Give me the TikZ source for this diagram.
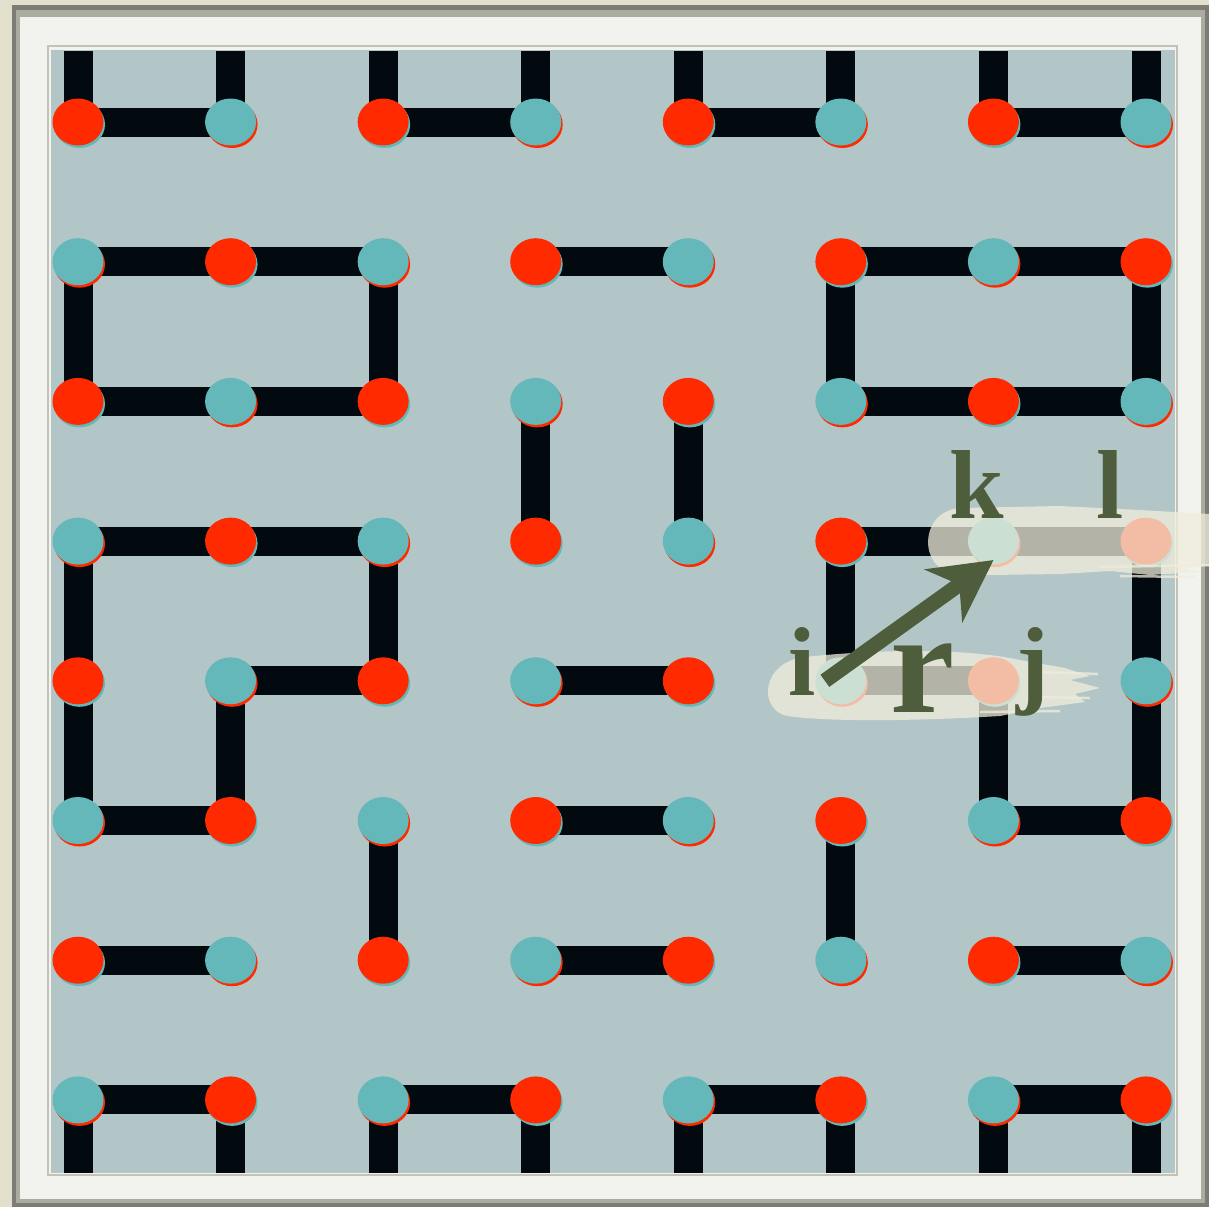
\documentclass[tikz,border=0pt]{standalone}
\usepackage{fontspec}
\newfontfamily\labfont{Liberation Serif}
\usetikzlibrary{shapes.geometric,arrows.meta}
\definecolor{bgbeige}{RGB}{227,223,205}
\definecolor{framedark}{RGB}{125,124,116}
\definecolor{framemid}{RGB}{172,171,162}
\definecolor{mat}{RGB}{242,242,239}
\definecolor{panelline}{RGB}{196,194,180}
\definecolor{panel}{RGB}{178,198,200}
\definecolor{dimer}{RGB}{2,9,15}
\definecolor{dotred}{RGB}{255,42,0}
\definecolor{dotteal}{RGB}{100,184,186}
\definecolor{cream}{RGB}{240,237,220}
\definecolor{olive}{RGB}{78,93,60}
\pgfdeclarelayer{back}
\pgfdeclarelayer{mid}
\pgfdeclarelayer{front}
\pgfsetlayers{back,mid,main,front}
\begin{document}
\begin{tikzpicture}[x=1pt,y=-1pt,
  bond/.style={draw=dimer,line width=29pt},
  dotnode/.style={ellipse,minimum width=51pt,minimum height=47pt,inner sep=0pt,draw=none},
  reddot/.style={dotnode,fill=dotred},
  tealdot/.style={dotnode,fill=dotteal},
  lab/.style={text=olive,font={\labfont\bfseries\fontsize{98}{98}\selectfont},anchor=base,inner sep=0pt},
  bigr/.style={lab,font={\labfont\bfseries\fontsize{145}{145}\selectfont}},
  brush/.style={fill=cream,fill opacity=0.75,draw=none},
  streak/.style={draw=cream,draw opacity=0.75,line width=2.5pt},
  vec/.style={draw=olive,line width=15pt,-{Stealth[length=62pt,width=66pt,inset=20pt,line width=0pt]}}]
\useasboundingbox (0,0) rectangle (1209,1207);
% frame and panel
\begin{pgfonlayer}{back}
\fill[bgbeige] (0,0) rectangle (1209,1207);
\fill[framedark] (12,5) rectangle (1209,1207);
\fill[framemid] (16,10) rectangle (1205,1203);
\fill[mat] (20,17) rectangle (1201,1199);
\draw[panelline,line width=2pt] (48,46) rectangle (1177,1175);
\fill[panel] (51,50) rectangle (1175,1173);
\end{pgfonlayer}
% dots
\foreach \r in {0,...,7}{\foreach \c in {0,...,7}{
  \pgfmathsetmacro{\px}{78+152.57*\c}
  \pgfmathsetmacro{\py}{122+139.7*\r}
  \pgfmathtruncatemacro{\pty}{mod(\r+\c,2)}
  \ifnum\pty=0
    \fill[dotteal] (\px+1.5,\py+2.5) ellipse [x radius=25.5, y radius=23.5];
    \node[reddot] (d\r\c) at (\px,\py) {};
  \else
    \fill[dotred] (\px+1.5,\py+2.5) ellipse [x radius=25.5, y radius=23.5];
    \node[tealdot] (d\r\c) at (\px,\py) {};
  \fi
}}
\foreach \c in {0,...,7}{
  \pgfmathsetmacro{\px}{78+152.57*\c}
  \coordinate (t\c) at (\px,51);
  \coordinate (b\c) at (\px,1173);
}
% bonds
\begin{pgfonlayer}{mid}
\foreach \c in {0,...,7}{
  \draw[bond] (t\c) -- (d0\c.center);
  \draw[bond] (d7\c.center) -- (b\c);
}
\foreach \a/\b in {00/01,02/03,04/05,06/07,
  10/11,11/12,13/14,15/16,16/17,
  10/20,12/22,15/25,17/27,
  20/21,21/22,25/26,26/27,
  23/33,24/34,
  30/31,31/32,35/36,36/37,
  30/40,32/42,35/45,37/47,
  41/42,43/44,45/46,
  40/50,41/51,46/56,47/57,
  50/51,53/54,56/57,
  52/62,55/65,
  60/61,63/64,66/67,
  70/71,72/73,74/75,76/77}{
  \draw[bond] (d\a.center) -- (d\b.center);
}
\end{pgfonlayer}
% highlights, labels, vector
\begin{pgfonlayer}{front}
\path[brush] (962,508) -- (1060,506) -- (1140,510) -- (1209,514) -- (1209,566)
  -- (1182,568) -- (1200,572) -- (1150,575) -- (1110,571) -- (1060,574)
  -- (990,575) -- (955,573) .. controls (918,571) and (918,509) .. (962,508) -- cycle;
\draw[streak] (1100,567) -- (1209,565);
\draw[streak] (1120,576) -- (1195,577);
\path[brush] (805,657) .. controls (870,650) and (960,647) .. (1020,660)
  -- (1065,668) -- (1090,676) -- (1070,680) -- (1100,688) -- (1075,694)
  -- (1085,702) -- (1040,708) -- (1000,716) .. controls (900,722) and (820,721) .. (788,716)
  .. controls (758,711) and (760,662) .. (805,657) -- cycle;
\draw[streak] (1040,672) -- (1098,674);
\draw[streak] (1030,697) -- (1090,698);
\draw[streak] (980,712) -- (1060,711);
\node[lab] (lk) at (977,518) {k};
\node[lab] (ll) at (1110,518) {l};
\node[lab] (li) at (802,695) {i};
\node[lab] (lj) at (1033,695) {j};
\node[bigr] (lr) at (923,712) {r};
\draw[vec] ([xshift=-16pt]d45.center) -- ([yshift=-19pt]d36.center);
\end{pgfonlayer}
\end{tikzpicture}
\end{document}
